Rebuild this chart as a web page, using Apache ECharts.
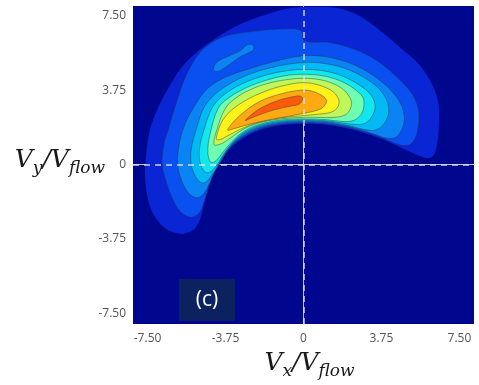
<!DOCTYPE html>
<html>
<head>
<meta charset="utf-8">
<title>Velocity distribution (c)</title>
<script src="https://cdn.jsdelivr.net/npm/echarts@6/dist/echarts.min.js"></script>
<style>
  html, body { margin: 0; padding: 0; background: #fff; }
  #main { width: 479px; height: 385px; }
</style>
</head>
<body>
<div id="main"></div>
<script>
// tick positions on both axes
const xTicks = [-7.5, -3.75, 0, 3.75, 7.5];
const yTicks = [-7.5, -3.75, 0, 3.75, 7.5];

// contour levels, outermost first, as (Vx, Vy) outlines
const level1 = [[-5.9,-3.5],[-6.6,-3.25],[-7.2,-2.55],[-7.5,-1.65],[-7.62,-0.65],[-7.58,0.35],[-7.4,1.7],[-7.0,2.85],[-6.5,3.85],[-5.9,4.85],[-5.1,5.7],[-4.1,6.45],[-3.0,7.1],[-1.7,7.6],[-0.6,7.9],[0.5,7.95],[1.6,7.9],[2.7,7.5],[3.7,6.75],[4.7,5.85],[5.6,5.0],[6.2,4.0],[6.5,3.0],[6.5,1.8],[6.4,0.9],[6.2,0.4],[5.8,0.35],[4.6,0.9],[3.6,1.35],[2.3,1.78],[1.15,2.0],[0,2.05],[-1.1,1.98],[-2.2,1.7],[-3.15,1.15],[-3.7,0.6],[-4.05,0],[-4.4,-0.6],[-4.6,-1.2],[-4.8,-2.0],[-4.95,-2.7],[-5.25,-3.25],[-5.6,-3.45]];
const level2 = [[-5.5,-2.65],[-5.95,-2.35],[-6.35,-1.6],[-6.65,-0.7],[-6.8,0],[-6.72,1.0],[-6.5,1.8],[-6.15,3.0],[-5.8,4.1],[-5.4,5.0],[-4.8,5.85],[-3.85,6.45],[-2.4,6.72],[-0.8,6.85],[-0.12,6.75],[0.05,6.25],[1.3,6.15],[2.5,5.8],[3.6,5.2],[4.5,4.4],[5.2,3.6],[5.5,2.9],[5.55,2.2],[5.4,1.4],[5.1,1.0],[4.6,1.0],[3.6,1.42],[2.3,1.83],[1.15,2.05],[0,2.1],[-1.1,2.03],[-2.2,1.76],[-3.1,1.25],[-3.65,0.7],[-4.0,0.1],[-4.35,-0.5],[-4.55,-1.1],[-4.75,-1.8],[-4.95,-2.35],[-5.2,-2.6]];
const island = [[-4.33,4.85],[-4.13,5.2],[-3.65,5.45],[-3.03,5.75],[-2.69,6.05],[-2.4,6.0],[-2.45,5.75],[-3.03,5.45],[-3.5,5.1],[-3.99,4.75],[-4.23,4.7]];
const level3 = [[-5.25,-1.65],[-5.6,-1.35],[-5.9,-0.7],[-6.05,0],[-6.0,0.9],[-5.75,1.9],[-5.3,2.85],[-4.6,3.85],[-3.65,4.45],[-2.55,4.85],[-1.4,5.2],[-0.3,5.45],[0.5,5.5],[1.5,5.35],[2.5,5.0],[3.4,4.45],[4.2,3.75],[4.7,3.0],[4.85,2.3],[4.7,1.7],[4.4,1.35],[3.9,1.35],[3.5,1.5],[2.3,1.88],[1.15,2.1],[0,2.15],[-1.1,2.08],[-2.2,1.82],[-3.05,1.35],[-3.6,0.8],[-3.95,0.2],[-4.3,-0.4],[-4.5,-0.9],[-4.75,-1.4],[-5.0,-1.65]];
const level4 = [[-4.95,-0.9],[-5.2,-0.6],[-5.4,0],[-5.4,0.8],[-5.15,1.8],[-4.8,2.85],[-4.25,3.55],[-3.5,4.1],[-2.5,4.6],[-1.3,4.95],[0,5.15],[1.0,5.1],[2.0,4.85],[2.9,4.4],[3.6,3.85],[4.0,3.25],[4.1,2.65],[3.9,2.1],[3.5,1.75],[3.0,1.75],[2.3,1.93],[1.15,2.15],[0,2.2],[-1.1,2.13],[-2.2,1.88],[-3.0,1.45],[-3.55,0.9],[-3.9,0.35],[-4.2,-0.2],[-4.45,-0.6],[-4.7,-0.9]];
const level5 = [[-4.7,-0.4],[-4.95,0],[-5.0,0.8],[-4.8,1.7],[-4.4,2.85],[-3.85,3.5],[-3.0,4.05],[-2.0,4.45],[-1.0,4.7],[0,4.8],[1.0,4.72],[1.9,4.45],[2.7,4.0],[3.25,3.5],[3.45,2.95],[3.3,2.45],[3.0,2.1],[2.5,2.02],[1.15,2.2],[0,2.25],[-1.1,2.18],[-2.2,1.94],[-2.95,1.55],[-3.5,1.0],[-3.85,0.5],[-4.15,0.0],[-4.45,-0.35]];
const level6 = [[-4.45,0.1],[-4.6,0.6],[-4.5,1.5],[-4.1,2.85],[-3.55,3.4],[-2.7,3.9],[-1.8,4.25],[-0.9,4.48],[0,4.55],[0.9,4.48],[1.7,4.25],[2.4,3.85],[2.85,3.4],[2.9,2.9],[2.75,2.5],[2.4,2.22],[1.9,2.17],[1.15,2.26],[0,2.3],[-1.1,2.24],[-2.2,2.0],[-2.9,1.65],[-3.45,1.15],[-3.85,0.65],[-4.2,0.2]];
const level7 = [[-4.3,1.0],[-4.15,1.8],[-3.75,2.85],[-3.2,3.4],[-2.4,3.85],[-1.5,4.15],[-0.7,4.3],[0,4.35],[0.8,4.28],[1.5,4.05],[2.0,3.7],[2.3,3.2],[2.25,2.8],[2.0,2.5],[1.5,2.38],[0.6,2.38],[0,2.38],[-1.1,2.3],[-2.2,2.08],[-2.95,1.75],[-3.5,1.35],[-3.95,1.05]];
const level8 = [[-4.2,1.3],[-3.85,2.3],[-3.0,3.1],[-1.7,3.75],[-0.5,4.08],[0.2,4.12],[0.9,3.95],[1.45,3.65],[1.7,3.25],[1.65,2.9],[1.35,2.65],[0.8,2.55],[0,2.47],[-1.1,2.35],[-2.2,2.12],[-3.0,1.8],[-3.7,1.42],[-4.05,1.25]];
const level9 = [[-3.65,1.75],[-3.03,2.5],[-2.07,3.2],[-0.96,3.6],[-0.14,3.75],[0.34,3.72],[0.82,3.52],[1.1,3.25],[1.0,2.95],[0.7,2.75],[-0.14,2.55],[-1.44,2.3],[-2.55,2.05],[-3.3,1.82]];
const level10 = [[-2.8,2.22],[-2.4,2.6],[-2.0,2.88],[-1.25,3.22],[-0.5,3.42],[-0.14,3.45],[-0.04,3.3],[-0.2,3.05],[-0.6,2.95],[-1.45,2.75],[-2.4,2.4]];

const bgColor = '#00078f';
const shapes = [
  { pts: level1, color: '#0a25d4', line: false },
  { pts: level2, color: '#0a4ff0', line: true },
  { pts: island, color: '#0a84f5', line: true },
  { pts: level3, color: '#0a84f5', line: true },
  { pts: level4, color: '#00b9f5', line: true },
  { pts: level5, color: '#12e6ee', line: true },
  { pts: level6, color: '#6effb0', line: true },
  { pts: level7, color: '#bff75a', line: true },
  { pts: level8, color: '#fff21a', line: true },
  { pts: level9, color: '#ffaa12', line: true },
  { pts: level10, color: '#ff5a0c', line: true },
];

const tickFmt = (v) => (v === 0 ? '0' : v.toFixed(2));

const serif = 'DejaVu Serif';
const titleRich = {
  v: { fontFamily: serif, fontStyle: 'italic', fontSize: 25, color: '#1a1a1a', verticalAlign: 'top', lineHeight: 34 },
  s: { fontFamily: serif, fontStyle: 'italic', fontSize: 17, color: '#1a1a1a', verticalAlign: 'top', lineHeight: 34, padding: [12, 0, 0, 0] },
};

const chart = echarts.init(document.getElementById('main'));
const option = {
  animation: false,
  grid: {
    left: 133,
    right: 5,
    top: 6,
    bottom: 57,
    show: true,
    backgroundColor: bgColor,
    borderWidth: 0,
  },
  xAxis: {
    type: 'value',
    min: -8.2,
    max: 8.2,
    name: '{v|V}{s|x}{v|/V}{s|flow}',
    nameLocation: 'middle',
    nameMoveOverlap: false,
    nameGap: 27,
    nameTextStyle: { rich: titleRich, padding: [0, 0, 0, 12] },
    axisLine: { show: true, lineStyle: { color: '#c4c4c4', width: 1 } },
    axisTick: { show: false },
    splitLine: { show: false },
    axisLabel: {
      customValues: xTicks,
      formatter: tickFmt,
      color: '#555',
      fontSize: 12,
      fontFamily: 'Open Sans',
      margin: 9,
    },
  },
  yAxis: {
    type: 'value',
    min: -8.05,
    max: 8.0,
    name: '{v|V}{s|y}{v|/V}{s|flow}',
    nameLocation: 'middle',
    nameRotate: 0,
    nameMoveOverlap: false,
    nameGap: 28,
    nameTextStyle: { rich: titleRich },
    axisLine: { show: true, lineStyle: { color: '#c4c4c4', width: 1 } },
    axisTick: { show: false },
    splitLine: { show: false },
    axisLabel: {
      customValues: yTicks,
      formatter: tickFmt,
      color: '#555',
      fontSize: 12,
      fontFamily: 'Open Sans',
      margin: 7,
    },
  },
  graphic: [
    {
      type: 'rect',
      left: 179,
      top: 279,
      shape: { width: 56, height: 42 },
      style: { fill: '#0c2260' },
      z: 10,
    },
    {
      type: 'text',
      x: 207,
      y: 300,
      style: {
        text: '(c)',
        fill: '#fff',
        font: '21px "Open Sans"',
        textAlign: 'center',
        textVerticalAlign: 'middle',
      },
      z: 11,
    },
  ],
  series: [
    {
      type: 'custom',
      clip: true,
      data: shapes.map((s, i) => [i]),
      renderItem(params, api) {
        const s = shapes[params.dataIndex];
        return {
          type: 'polygon',
          shape: { points: s.pts.map((p) => api.coord(p)), smooth: 0.35 },
          style: {
            fill: s.color,
            stroke: s.line ? 'rgba(40,45,60,0.55)' : null,
            lineWidth: s.line ? 0.8 : 0,
          },
        };
      },
      markLine: {
        silent: true,
        symbol: 'none',
        label: { show: false },
        lineStyle: { type: [6, 5], color: 'rgba(225,225,240,0.9)', width: 1.5 },
        data: [{ xAxis: 0 }, { yAxis: 0 }],
      },
    },
  ],
};
chart.setOption(option);
</script>
</body>
</html>
